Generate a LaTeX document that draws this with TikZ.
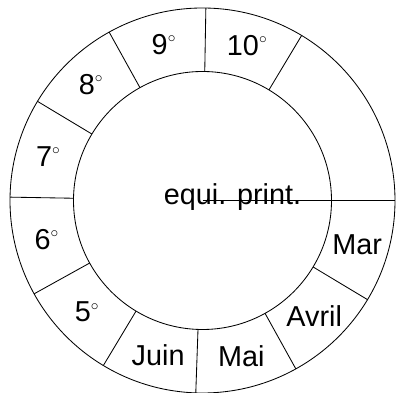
\documentclass[tikz,border=0pt]{standalone}
\usepackage{fontspec}
\setmainfont{Liberation Sans}
\newcommand{\dg}{\raisebox{8.5pt}{\fontsize{11}{11}\selectfont$\circ$}}
\begin{document}
\begin{tikzpicture}[
  ring/.style={line width=0.6pt},
  lab/.style={font=\fontsize{20.5}{24}\selectfont, inner sep=0pt}
]
\useasboundingbox (-5.0625,-4.8125) rectangle (4.8375,5.0125);
\draw[ring] (0,0) circle (4.8125);
\draw[ring] (0,0) circle (3.225);
\draw[ring] (0,0) -- (0:4.8125);
\draw[ring] (59:3.225) -- (59:4.8125);
\draw[ring] (89:3.225) -- (89:4.8125);
\draw[ring] (119:3.225) -- (119:4.8125);
\draw[ring] (149:3.225) -- (149:4.8125);
\draw[ring] (179:3.225) -- (179:4.8125);
\draw[ring] (209:3.225) -- (209:4.8125);
\draw[ring] (239:3.225) -- (239:4.8125);
\draw[ring] (268:3.225) -- (268:4.8125);
\draw[ring] (299:3.225) -- (299:4.8125);
\draw[ring] (329:3.225) -- (329:4.8125);
\node[lab, anchor=base] (eqp) at (0.75,-0.09) {equi. print.};
\node[lab] (m10) at (74:4.02) {10\dg};
\node[lab] (m9) at (104:4.02) {9\dg};
\node[lab] (m8) at (134:4.02) {8\dg};
\node[lab] (m7) at (164:4.02) {7\dg};
\node[lab] (m6) at (194:4.02) {6\dg};
\node[lab] (m5) at (224:4.02) {5\dg};
\node[lab] (juin) at (254:4.02) {Juin};
\node[lab] (mai) at (284:4.02) {Mai};
\node[lab] (avril) at (314:4.02) {Avril};
\node[lab] (mar) at (344:4.02) {Mar};
\end{tikzpicture}
\end{document}
